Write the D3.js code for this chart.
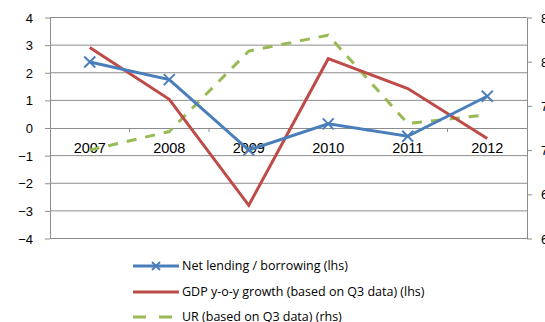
<!DOCTYPE html>
<html><head><meta charset="utf-8">
<script src="https://cdn.jsdelivr.net/npm/d3@7"></script>
<style>
html,body{margin:0;padding:0;background:#fff;}
svg{display:block;font-family:"Open Sans","Noto Sans",sans-serif;}
</style></head>
<body><svg id="c" width="545" height="322"></svg>
<script>
const years = ["2007","2008","2009","2010","2011","2012"];
const netLending = [2.39, 1.75, -0.80, 0.15, -0.30, 1.15];
const gdpGrowth = [2.91, 1.04, -2.80, 2.51, 1.43, -0.38];
const unemployment = [7.00, 7.21, 8.12, 8.30, 7.30, 7.40];
const leftTicks = [-4,-3,-2,-1,0,1,2,3,4];
const rightTicks = [6.0,6.5,7.0,7.5,8.0,8.5];
const legendLabels = ["Net lending / borrowing (lhs)","GDP y-o-y growth (based on Q3 data) (lhs)","UR (based on Q3 data) (rhs)"];

const svg = d3.select("#c");
const L=50, R=527, T=17.5, B=238.5;
const x = d3.scaleBand().domain(years).range([L,R]);
const yL = d3.scaleLinear().domain([-4,4]).range([B,T]);
const yR = d3.scaleLinear().domain([6,8.5]).range([B,T]);
const grid="#8c8c8c";

// gridlines + left axis
const gL = svg.append("g").attr("transform",`translate(${L},0)`)
  .call(d3.axisLeft(yL).tickValues(leftTicks).tickSize(5).tickSizeOuter(0).tickFormat(d3.format("d")));
gL.select(".domain").attr("stroke",grid);
gL.selectAll(".tick line").attr("stroke",grid);
gL.selectAll(".tick text").attr("font-size",13).attr("fill","#000").attr("x",-17).attr("dy","0.35em");
svg.append("g").selectAll("line").data(leftTicks.filter(d=>d!==0)).join("line")
  .attr("x1",L).attr("x2",R).attr("y1",d=>yL(d)).attr("y2",d=>yL(d))
  .attr("stroke",grid).attr("stroke-width",1);

// right axis
const gR = svg.append("g").attr("transform",`translate(${R},0)`)
  .call(d3.axisRight(yR).tickValues(rightTicks).tickSize(5).tickSizeOuter(0).tickFormat(d3.format(".1f")));
gR.select(".domain").attr("stroke",grid);
gR.selectAll(".tick line").attr("stroke",grid);
gR.selectAll(".tick text").attr("font-size",13).attr("fill","#000").attr("x",14).attr("dy","0.35em");

// category axis at zero
const gX = svg.append("g").attr("transform",`translate(0,${yL(0)})`)
  .call(d3.axisBottom(x).tickSize(0).tickSizeOuter(0));
gX.select(".domain").attr("stroke",grid);
gX.selectAll(".tick text").attr("font-size",14.5).attr("fill","#000").attr("dy","0.35em").attr("y",20);
svg.append("g").selectAll("line").data(years.slice(1)).join("line")
  .attr("x1",d=>x(d)).attr("x2",d=>x(d)).attr("y1",yL(0)).attr("y2",yL(0)+4)
  .attr("stroke",grid);

const cx = d=>x(d)+x.bandwidth()/2;
const blue="#4a7ebb", red="#be4b48", green="#98b954";

// UR
svg.append("path").datum(unemployment)
  .attr("d",d3.line().x((d,i)=>cx(years[i])).y(d=>yR(d)))
  .attr("fill","none").attr("stroke",green).attr("stroke-width",3).attr("stroke-dasharray","10,9");
// GDP
svg.append("path").datum(gdpGrowth)
  .attr("d",d3.line().x((d,i)=>cx(years[i])).y(d=>yL(d)))
  .attr("fill","none").attr("stroke",red).attr("stroke-width",3);
// Net lending
svg.append("path").datum(netLending)
  .attr("d",d3.line().x((d,i)=>cx(years[i])).y(d=>yL(d)))
  .attr("fill","none").attr("stroke",blue).attr("stroke-width",3);
const cross = (g,px,py,s)=>{
  g.append("path").attr("d",`M${px-s},${py-s}L${px+s},${py+s}M${px-s},${py+s}L${px+s},${py-s}`)
   .attr("stroke",blue).attr("stroke-width",2).attr("fill","none");
};
const mk = svg.append("g");
netLending.forEach((d,i)=>cross(mk,cx(years[i]),yL(d),5.5));

// legend
const lg = svg.append("g");
const rows=[266,292,317];
lg.append("line").attr("x1",133).attr("x2",179).attr("y1",rows[0]).attr("y2",rows[0]).attr("stroke",blue).attr("stroke-width",3);
cross(lg,156,rows[0],4);
lg.append("line").attr("x1",133).attr("x2",179).attr("y1",rows[1]).attr("y2",rows[1]).attr("stroke",red).attr("stroke-width",3);
lg.append("line").attr("x1",133).attr("x2",179).attr("y1",rows[2]).attr("y2",rows[2]).attr("stroke",green).attr("stroke-width",3).attr("stroke-dasharray","13,13");
lg.selectAll("text").data(legendLabels).join("text")
  .attr("x",182).attr("y",(d,i)=>rows[i]).attr("dy","0.35em").attr("font-size",12.5).attr("fill","#000").text(d=>d);
</script></body></html>
